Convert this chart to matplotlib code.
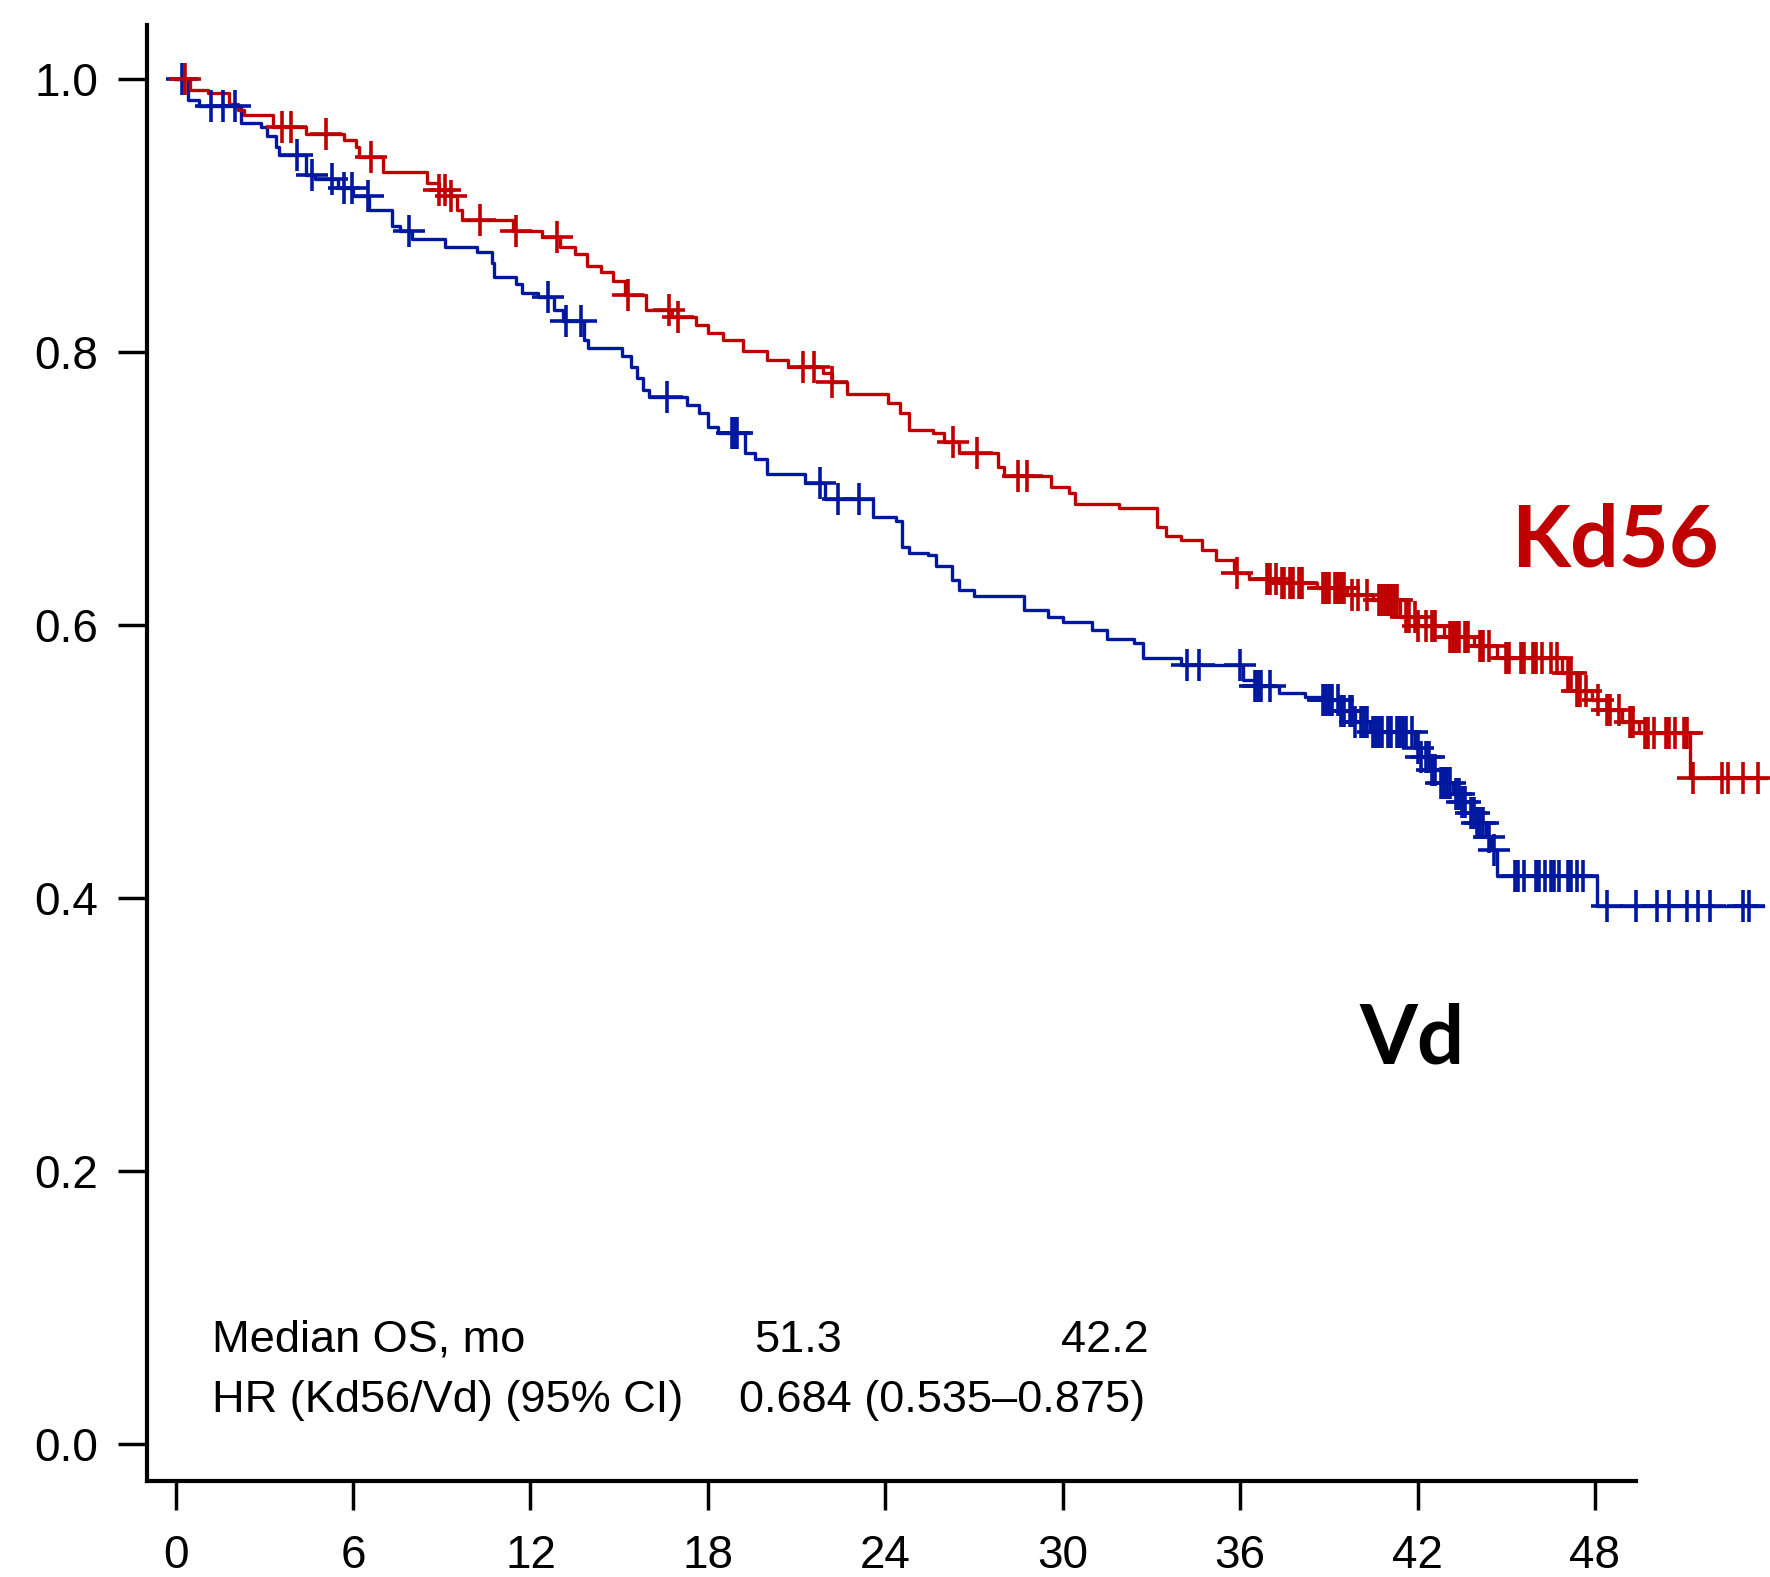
import numpy as np
import matplotlib
matplotlib.use('Agg')
import matplotlib.pyplot as plt

# Kaplan-Meier steps (months, survival)
kd_t = [0, 0.5, 1.1, 1.8, 2.1, 2.3, 3.3, 4.4, 5.7, 6.1, 6.2, 7.0, 8.5, 8.9, 9.3, 9.5, 9.7,
        11.4, 12.4, 13.0, 13.5, 13.9, 14.4, 14.8, 15.2, 15.9, 16.8, 17.6, 18.0, 18.5, 19.2,
        20.0, 20.7, 21.9, 22.2, 22.7, 24.1, 24.5, 24.8, 25.6, 26.0, 26.5, 27.8, 28.0, 29.6,
        30.2, 30.4, 31.9, 33.2, 33.5, 34.0, 34.7, 35.2, 35.8, 36.3, 37.3, 38.6, 39.6, 40.5,
        41.4, 42.0, 42.9, 43.9, 44.7, 46.9, 47.4, 47.9, 48.4, 48.9, 49.5, 51.2, 53.8]
kd_s = [1.0, 0.992, 0.990, 0.982, 0.977, 0.974, 0.965, 0.960, 0.955, 0.950, 0.943, 0.932, 0.924,
        0.919, 0.914, 0.904, 0.897, 0.889, 0.884, 0.877, 0.872, 0.863, 0.859, 0.852, 0.842,
        0.831, 0.826, 0.820, 0.814, 0.809, 0.801, 0.794, 0.789, 0.785, 0.778, 0.769, 0.763,
        0.755, 0.743, 0.741, 0.734, 0.726, 0.716, 0.709, 0.701, 0.697, 0.689, 0.686, 0.672,
        0.665, 0.662, 0.655, 0.648, 0.638, 0.634, 0.631, 0.627, 0.622, 0.618, 0.606, 0.599,
        0.591, 0.585, 0.576, 0.565, 0.552, 0.545, 0.538, 0.529, 0.521, 0.488, 0.488]
kd_cens = [0.3, 3.6, 3.9, 5.1, 6.6, 8.9, 9.1, 9.3, 10.3, 11.5, 12.9, 15.3, 16.7, 17.0, 21.2, 21.6,
           22.2, 26.3, 27.1, 28.5, 28.8, 35.9, 36.9, 37.0, 37.2, 37.4, 37.5, 37.7, 37.8, 38.0,
           38.1, 38.8, 38.9, 39.0, 39.2, 39.3, 39.4, 39.5, 39.8, 40.0, 40.3, 40.7, 40.8, 40.9,
           41.0, 41.1, 41.2, 41.3, 41.6, 41.7, 41.9, 42.0, 42.3, 42.5, 42.6, 43.1, 43.2, 43.3,
           43.4, 43.6, 43.7, 44.1, 44.2, 44.4, 45.0, 45.1, 45.5, 45.6, 45.9, 46.0, 46.2, 46.5,
           46.7, 47.1, 47.2, 47.4, 47.5, 47.7, 48.1, 48.4, 48.5, 48.8, 49.2, 49.3, 49.7, 49.8,
           50.0, 50.4, 50.5, 50.7, 51.0, 51.1, 51.3, 52.3, 52.5, 53.0, 53.5]

vd_t = [0, 0.4, 0.8, 2.2, 2.9, 3.1, 3.4, 3.5, 4.4, 4.7, 5.5, 6.0, 6.55, 7.3, 7.6, 8.0, 9.1,
        10.2, 10.7, 10.75, 11.5, 11.7, 12.27, 12.8, 13.1, 13.8, 13.95, 15.1, 15.4, 15.6, 15.8,
        16.0, 17.3, 17.7, 18.0, 18.34, 19.25, 19.6, 20.0, 21.3, 21.96, 23.6, 24.36, 24.56,
        24.8, 25.46, 25.7, 26.24, 26.5, 27.0, 28.7, 29.5, 30.0, 31.0, 31.5, 32.4, 32.7, 34.0,
        36.1, 36.5, 37.3, 38.2, 38.8, 39.4, 39.9, 40.4, 41.9, 42.1, 42.5, 42.8, 43.2, 43.5,
        43.8, 44.0, 44.3, 44.5, 44.7, 48.06, 53.7]
vd_s = [1.0, 0.985, 0.980, 0.968, 0.965, 0.958, 0.950, 0.944, 0.930, 0.927, 0.920, 0.914,
        0.904, 0.892, 0.889, 0.883, 0.877, 0.873, 0.865, 0.855, 0.850, 0.843, 0.840, 0.831,
        0.823, 0.809, 0.803, 0.797, 0.789, 0.781, 0.772, 0.767, 0.761, 0.755, 0.745, 0.741,
        0.726, 0.722, 0.711, 0.704, 0.692, 0.679, 0.676, 0.657, 0.653, 0.651, 0.643, 0.633,
        0.626, 0.621, 0.611, 0.606, 0.602, 0.596, 0.590, 0.587, 0.576, 0.571, 0.560, 0.555,
        0.550, 0.547, 0.545, 0.537, 0.529, 0.522, 0.510, 0.503, 0.494, 0.484, 0.476, 0.470,
        0.462, 0.455, 0.445, 0.435, 0.416, 0.394, 0.394]
vd_cens = [0.2, 1.2, 1.6, 2.0, 4.1, 4.6, 5.3, 5.7, 5.95, 6.5, 7.9, 12.6, 13.2, 13.7, 16.6, 18.8,
           18.9, 19.0, 21.8, 22.4, 23.1, 34.2, 34.6, 36.0, 36.5, 36.6, 36.7, 37.0, 38.8, 38.9,
           39.0, 39.1, 39.3, 39.4, 39.5, 39.7, 39.8, 39.9, 40.1, 40.2, 40.3, 40.5, 40.6, 40.7,
           40.8, 41.0, 41.1, 41.3, 41.4, 41.5, 41.6, 41.8, 42.0, 42.1, 42.3, 42.4, 42.5, 42.6,
           42.8, 42.9, 43.0, 43.1, 43.3, 43.4, 43.5, 43.6, 43.8, 43.9, 44.0, 44.1, 44.2, 44.4,
           44.6, 45.3, 45.4, 45.6, 46.0, 46.1, 46.3, 46.5, 46.6, 46.8, 47.1, 47.2, 47.4, 47.6,
           48.4, 49.4, 50.1, 50.5, 51.1, 51.5, 51.9, 53.0, 53.2]

x_ticks = [0, 6, 12, 18, 24, 30, 36, 42, 48]
y_ticks = [0.0, 0.2, 0.4, 0.6, 0.8, 1.0]

red = '#c00000'
blue = '#0018a0'


def at(times, surv, c):
    # survival value of the step curve at censor time c
    i = np.searchsorted(times, c, side='right') - 1
    return surv[i]


fig = plt.figure(figsize=(17.7, 15.77), dpi=100)
ax = fig.add_axes([147 / 1770, 1 - 1481 / 1577, 1 - 147 / 1770, (1481 - 25) / 1577])

ax.step(vd_t, vd_s, where='post', color=blue, lw=2.4)
ax.step(kd_t, kd_s, where='post', color=red, lw=2.4)
ax.plot(vd_cens, [at(vd_t, vd_s, c) for c in vd_cens], ls='none', marker='+',
        ms=23, mew=2.6, color=blue)
ax.plot(kd_cens, [at(kd_t, kd_s, c) for c in kd_cens], ls='none', marker='+',
        ms=23, mew=2.6, color=red)

ax.set_xlim(-0.97, 53.92)
ax.set_ylim(-0.0271, 1.0396)
ax.spines['top'].set_visible(False)
ax.spines['right'].set_visible(False)
ax.spines['left'].set_linewidth(3)
ax.spines['bottom'].set_linewidth(3)
ax.spines['bottom'].set_bounds(-0.97, 49.4)

ax.set_xticks(x_ticks)
ax.set_xticklabels([str(v) for v in x_ticks])
ax.set_yticks(y_ticks)
ax.set_yticklabels([f'{v:.1f}' for v in y_ticks])
ax.tick_params(axis='both', length=21, width=2.5, direction='out', labelsize=33)
ax.tick_params(axis='y', pad=14)
ax.tick_params(axis='x', pad=17)
for lab in ax.get_xticklabels() + ax.get_yticklabels():
    lab.set_family(['Liberation Sans', 'DejaVu Sans'])

txt = dict(fontsize=32.5, family=['Liberation Sans', 'DejaVu Sans'], va='baseline')
ax.text(1.23, 0.0676, 'Median OS, mo', ha='left', **txt)
ax.text(19.56, 0.0676, '51.3', ha='left', **txt)
ax.text(32.9, 0.0676, '42.2', ha='right', **txt)
ax.text(1.23, 0.0237, 'HR (Kd56/Vd) (95% CI)', ha='left', **txt)
ax.text(19.05, 0.0237, '0.684 (0.535\u20130.875)', ha='left', **txt)

lab = dict(fontweight='bold', family=['Lato', 'Liberation Sans'], va='baseline', ha='left')
ax.text(45.16, 0.6427, 'Kd56', color=red, fontsize=62, **lab)
ax.text(40.05, 0.279, 'Vd', color='black', fontsize=60, **lab)

plt.savefig('out.png', dpi=100)
